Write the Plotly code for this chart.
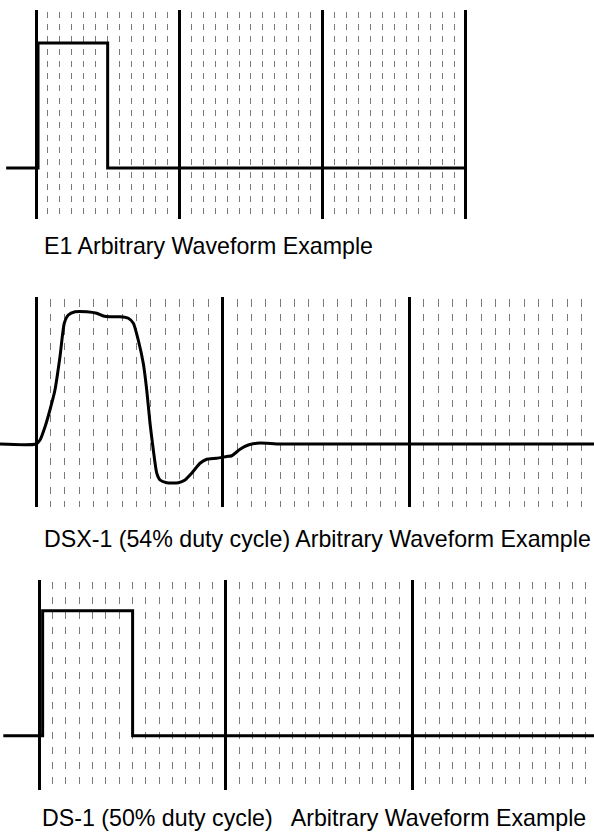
import plotly.graph_objects as go

# ---------------- data (x in grid subdivisions, y in normalised amplitude) ----
e1_x = [-2.5, 0.17, 0.17, 6, 6, 36]
e1_y = [0, 0, 1, 1, 0, 0]
e1_major = [0, 12, 24, 36]
e1_minor = [v for v in range(1, 36) if v % 12]

dsx_x = [-2.6, 0, 0.28, 0.63, 0.97, 1.32, 1.67, 1.97, 2.25, 2.72, 3.53, 4.23, 4.69,
         5.15, 5.85, 6.43, 6.78, 7.12, 7.47, 7.71, 7.94, 8.17, 8.41, 8.64, 9.10,
         9.91, 10.38, 10.84, 11.42, 11.89, 12.58, 13.28, 13.63, 14.21, 14.78,
         15.37, 16.07, 16.76, 39.5]
dsx_y = [0, 0, 0.032, 0.138, 0.272, 0.432, 0.698, 0.966, 1.032, 1.058, 1.058, 1.046,
         1.024, 1.018, 1.018, 1.006, 0.966, 0.832, 0.646, 0.432, 0.166, -0.048,
         -0.234, -0.288, -0.31, -0.31, -0.288, -0.234, -0.154, -0.122, -0.114,
         -0.10, -0.094, -0.042, -0.008, 0.006, 0.006, 0, 0]
dsx_major = [0, 13, 26, 39]
dsx_minor = [v for v in range(1, 39) if v % 13]

ds1_x = [-2.7, 0.25, 0.25, 7, 7, 42]
ds1_y = [0, 0, 1, 1, 0, 0]
ds1_major = [0, 14, 28, 42]
ds1_minor = [v for v in range(1, 42) if v % 14]

labels = ["E1 Arbitrary Waveform Example",
          "DSX-1 (54% duty cycle) Arbitrary Waveform Example",
          "DS-1 (50% duty cycle)\u00a0\u00a0 Arbitrary Waveform Example"]

# ---------------- layout geometry -------------------------------------------
W, H = 594, 836
panels = [
    dict(x0=36.0, sx=11.944, top=10, bot=219, base=168, sy=125,
         major=e1_major, minor=e1_minor, dash="0px,1.7px,6px,4.6px",
         x=e1_x, y=e1_y, shape="linear", label_y=246, label_x=42),
    dict(x0=36.0, sx=14.36, top=296.7, bot=507, base=444, sy=125,
         major=dsx_major, minor=dsx_minor, dash="0px,2.6px,7.2px,4.6px",
         x=dsx_x, y=dsx_y, shape="spline", label_y=539, label_x=42),
    dict(x0=39.3, sx=13.33, top=580, bot=790, base=735.7, sy=125,
         major=ds1_major, minor=ds1_minor, dash="0px,1.8px,7px,6.2px",
         x=ds1_x, y=ds1_y, shape="linear", label_y=818, label_x=40),
]

fig = go.Figure()
for i, p in enumerate(panels, start=1):
    xa = "x" if i == 1 else f"x{i}"
    ya = "y" if i == 1 else f"y{i}"
    fig.add_trace(go.Scatter(
        x=p["x"], y=p["y"], mode="lines", xaxis=xa, yaxis=ya,
        line=dict(color="black", width=3, shape=p["shape"], smoothing=0.6),
        hoverinfo="skip", showlegend=False))
    xr = [-p["x0"] / p["sx"], (W - p["x0"]) / p["sx"]]
    yr = [-(p["bot"] - p["base"]) / p["sy"], (p["base"] - p["top"]) / p["sy"]]
    xkey = "xaxis" if i == 1 else f"xaxis{i}"
    ykey = "yaxis" if i == 1 else f"yaxis{i}"
    fig.update_layout({
        xkey: dict(domain=[0, 1], range=xr, anchor=ya,
                   tickmode="array", tickvals=p["major"], showticklabels=False,
                   ticks="", showgrid=True, gridcolor="black", gridwidth=3,
                   zeroline=False, showline=False, fixedrange=True,
                   minor=dict(tickmode="array", tickvals=p["minor"], showgrid=True,
                              gridcolor="#7a7a7a", gridwidth=1, griddash=p["dash"],
                              ticks="")),
        ykey: dict(domain=[1 - p["bot"] / H, 1 - p["top"] / H], range=yr, anchor=xa,
                   showgrid=False, zeroline=False, showticklabels=False,
                   ticks="", showline=False, fixedrange=True),
    })
    fig.add_annotation(text=labels[i - 1], xref="paper", yref="paper",
                       x=p["label_x"] / W, y=1 - p["label_y"] / H, xanchor="left",
                       yanchor="middle", showarrow=False,
                       font=dict(family="Liberation Sans, Arial, sans-serif",
                                 size=23.2, color="black"))

fig.update_layout(width=W, height=H, margin=dict(l=0, r=0, t=0, b=0),
                  paper_bgcolor="white", plot_bgcolor="white", showlegend=False)

fig.write_html("out.html", config={"displayModeBar": False},
               post_script="document.body.style.margin='0';document.body.style.padding='0';")
